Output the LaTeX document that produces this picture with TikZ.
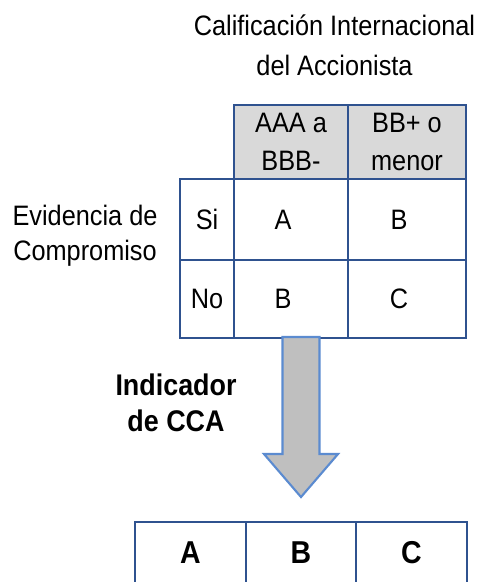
\documentclass[tikz,border=0pt]{standalone}
\usepackage{fontspec}
\setmainfont{Liberation Sans}[FakeStretch=0.9]
\usepackage{tikz}
\usetikzlibrary{shapes, arrows, positioning, calc}
\definecolor{tabline}{RGB}{47,82,143}
\definecolor{hdrfill}{RGB}{217,217,217}
\definecolor{arrowfill}{RGB}{191,191,191}
\definecolor{arrowline}{RGB}{91,139,208}
\newcommand{\padr}{\kern0.32cm}
\tikzstyle{cell} = [draw=tabline, line width=1.1pt, rectangle, inner sep=0pt,
    minimum height=1.56cm, minimum width=2.28cm]
\tikzstyle{hdr} = [cell, fill=hdrfill, minimum height=1.48cm]
\tikzstyle{res} = [draw=tabline, line width=1.1pt, rectangle, inner sep=0pt,
    minimum height=1.24cm, minimum width=2.2cm, font=\fontsize{18}{22}\selectfont\bfseries]
\tikzstyle{bigarrow} = [draw=arrowline, fill=arrowfill, line width=1.2pt, line join=miter]

\begin{document}
\begin{tikzpicture}[align=center, font=\fontsize{16}{20.5}\selectfont]
        \useasboundingbox (0,0) rectangle (9.7,-11.64);
        \begin{scope}
        \node[name=title, font=\fontsize{16}{22.8}\selectfont] at (6.69,-0.9) (title) {Calificación Internacional\\del Accionista};
        \node[name=evid, font=\fontsize{16}{19.9}\selectfont] at (1.7,-4.72) (evid) {Evidencia de\\Compromiso};

        \node[hdr, name=hdrA, font=\fontsize{16}{21.6}\selectfont] at (5.82,-2.84) (hdrA) {AAA a\\BBB-};
        \node[hdr, name=hdrB, minimum width=2.36cm, font=\fontsize{16}{21.6}\selectfont] at (8.14,-2.84) (hdrB) {BB+ o\\menor};

        \node[cell, name=rowSi, minimum width=1.08cm, minimum height=1.62cm] at (4.14,-4.39) (rowSi) {Si};
        \node[cell, name=rowNo, minimum width=1.08cm] at (4.14,-5.98) (rowNo) {No};
        \node[cell, name=siA, minimum height=1.62cm] at (5.82,-4.39) (siA) {A\padr};
        \node[cell, name=siB, minimum height=1.62cm, minimum width=2.36cm] at (8.14,-4.39) (siB) {B\padr};
        \node[cell, name=noA] at (5.82,-5.98) (noA) {B\padr};
        \node[cell, name=noB, minimum width=2.36cm] at (8.14,-5.98) (noB) {C\padr};

        \node[name=ind, font=\fontsize{17}{20.5}\selectfont\bfseries] at (3.52,-8.06) (ind) {Indicador\\de CCA};

        \node[res, name=resA, minimum width=2.22cm] at (3.81,-11.06) (resA) {A};
        \node[res, name=resB] at (6.02,-11.06) (resB) {B};
        \node[res, name=resC, minimum width=2.22cm] at (8.23,-11.06) (resC) {C};

        \coordinate (tip) at ($(resB.north)+(0,0.48)$);
        \draw[bigarrow] (tip) -- ++(0.74,0.86) -- ++(-0.37,0) -- ++(0,2.34)
            -- ++(-0.74,0) -- ++(0,-2.34) -- ++(-0.37,0) -- cycle;
        \end{scope}
    \end{tikzpicture}
\end{document}
